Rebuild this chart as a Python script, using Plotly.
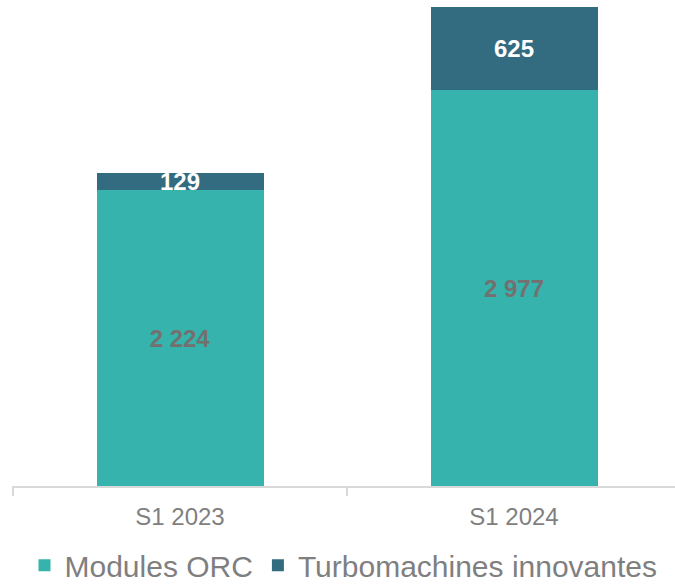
import plotly.graph_objects as go

categories = ["S1 2023", "S1 2024"]
modules_orc = [2224, 2977]
turbomachines = [129, 625]
orc_labels = ["2 224", "2 977"]
turbo_labels = ["129", "625"]

TEAL = "#35B3AC"
DARK = "#336B80"
GRAY = "#7F7F7F"
LABEL_GRAY = "#747070"

xpos = list(range(len(categories)))

fig = go.Figure()
fig.add_trace(go.Bar(
    x=xpos, y=modules_orc, name="Modules ORC",
    marker=dict(color=TEAL, line=dict(width=0)),
    width=0.5,
    text=orc_labels, textposition="inside", insidetextanchor="middle",
    textfont=dict(family="Arial, Liberation Sans", size=24, color=LABEL_GRAY, weight="bold"),
    textangle=0,
))
fig.add_trace(go.Bar(
    x=xpos, y=turbomachines, name="Turbomachines innovantes",
    marker=dict(color=DARK, line=dict(width=0)),
    width=0.5,
    text=turbo_labels, textposition="inside", insidetextanchor="middle",
    textfont=dict(family="Arial, Liberation Sans", size=24, color="white", weight="bold"),
    textangle=0,
    constraintext="none",
))

fig.update_layout(
    barmode="stack",
    width=675, height=584,
    margin=dict(l=12, r=0, t=0, b=98, autoexpand=False),
    plot_bgcolor="white", paper_bgcolor="white",
    font=dict(family="Arial, Liberation Sans", color=GRAY),
    uniformtext=dict(mode="show", minsize=10),
    showlegend=True,
    legend=dict(
        orientation="h", x=0.5, xanchor="center", y=-0.163, yanchor="middle",
        font=dict(size=30, color=GRAY), traceorder="normal",
        itemwidth=30, borderwidth=0, bgcolor="rgba(0,0,0,0)",
    ),
    xaxis=dict(
        range=[-0.503, 1.482],
        tickvals=xpos, ticktext=categories,
        tickfont=dict(size=24, color=GRAY),
        showline=True, linecolor="#D9D9D9", linewidth=2,
        showgrid=False, zeroline=False, ticks="",
        ticklabelstandoff=8,
        minor=dict(tickvals=[-0.5, 0.5, 1.5], ticks="outside", ticklen=8,
                   tickcolor="#D9D9D9", tickwidth=1.5, showgrid=False),
        fixedrange=True, automargin=False,
    ),
    yaxis=dict(range=[0, 3654], visible=False, showgrid=False, fixedrange=True),
)

fig.write_html("out.html", config={"displayModeBar": False},
               post_script="document.body.style.margin='0';")
